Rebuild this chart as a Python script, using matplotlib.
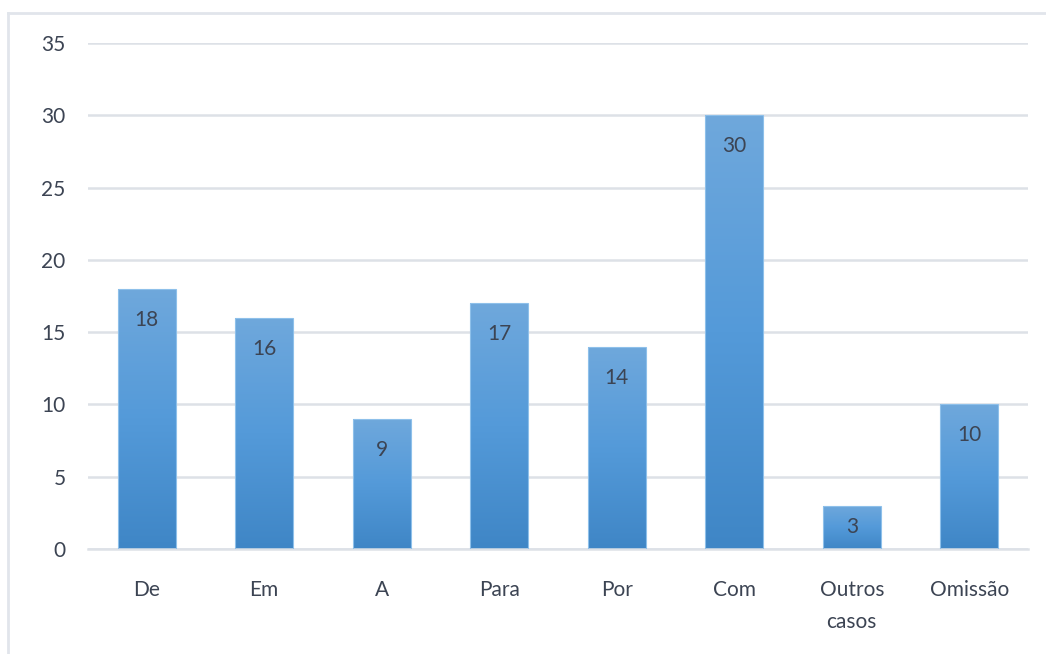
import matplotlib.pyplot as plt
import numpy as np
from matplotlib.colors import LinearSegmentedColormap
from matplotlib.lines import Line2D

categories = ["De", "Em", "A", "Para", "Por", "Com", "Outros\ncasos", "Omissão"]
values = [18, 16, 9, 17, 14, 30, 3, 10]
y_ticks = [0, 5, 10, 15, 20, 25, 30, 35]

text_color = "#3c4453"
grid_color = "#dde1e7"
# bar fill goes from light at the top to darker at the bottom
bar_cmap = LinearSegmentedColormap.from_list(
    "bar", ["#3f86c6", "#549ad9", "#6fa8dc"])

plt.rcParams["font.family"] = ["Lato", "DejaVu Sans"]

fig = plt.figure(figsize=(10.46, 6.54), dpi=100)
ax = fig.add_axes([0.0841, 0.1606, 0.8987, 0.7737])

x = np.arange(len(categories))
width = 0.49
grad = np.linspace(0, 1, 256).reshape(-1, 1)

bars = ax.bar(x, values, width=width, color="none", edgecolor="#8ec0ea",
              linewidth=0.8, zorder=3)
# fix limits before the label offsets are worked out in pixels
ax.set_xlim(-0.5, len(categories) - 0.5)
ax.set_ylim(0, 35)
for bar, v in zip(bars, values):
    x0 = bar.get_x()
    im = ax.imshow(grad, cmap=bar_cmap, origin="lower", aspect="auto",
                   extent=[x0, x0 + bar.get_width(), 0, v], zorder=2)
    im.set_clip_path(bar)
    # label sits just under the bar top, or mid-bar when the bar is short
    bar_px = ax.transData.transform((0, v))[1] - ax.transData.transform((0, 0))[1]
    offset = -min(31, bar_px / 2)
    ax.annotate(str(v), (bar.get_x() + bar.get_width() / 2, v),
                xytext=(0, offset), textcoords="offset pixels",
                ha="center", va="center", fontsize=15, color=text_color,
                zorder=4)

ax.set_yticks(y_ticks)
ax.set_xticks(x)
ax.set_xticklabels(categories, linespacing=1.75)
ax.tick_params(axis="y", length=0, pad=16, labelsize=15, labelcolor=text_color)
ax.tick_params(axis="x", length=0, pad=22, labelsize=15, labelcolor=text_color)
ax.grid(axis="y", color=grid_color, linewidth=1.8, zorder=0)
ax.set_axisbelow(True)
for side in ["top", "right", "left"]:
    ax.spines[side].set_visible(False)
ax.spines["bottom"].set_color(grid_color)
ax.spines["bottom"].set_linewidth(1.8)

# light frame along the top and left edge of the chart area
fig.add_artist(Line2D([8 / 1046, 1], [1 - 13 / 654, 1 - 13 / 654],
                      color="#e1e5eb", linewidth=2, transform=fig.transFigure))
fig.add_artist(Line2D([8 / 1046, 8 / 1046], [0, 1 - 13 / 654],
                      color="#e1e5eb", linewidth=2, transform=fig.transFigure))

fig.savefig("out.png", dpi=100)
